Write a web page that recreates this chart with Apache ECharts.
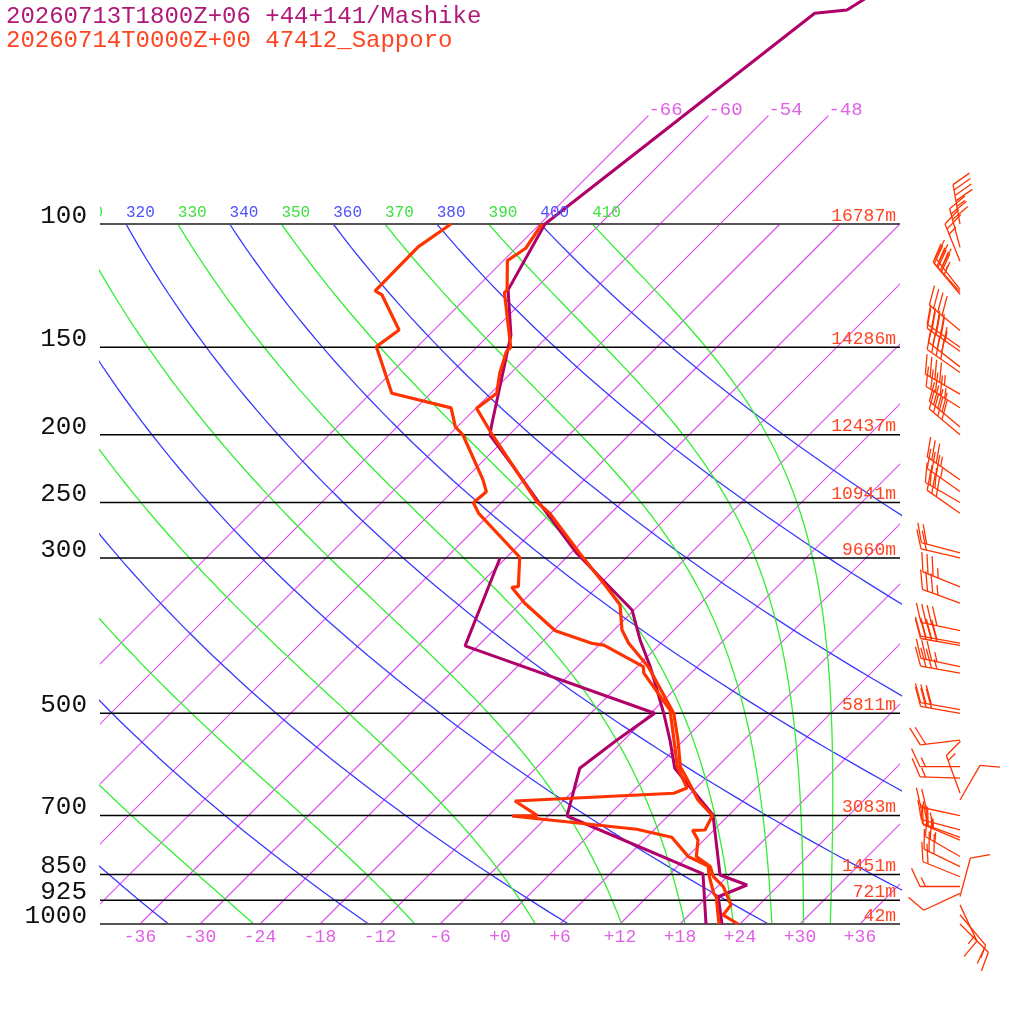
<!DOCTYPE html>
<html><head><meta charset="utf-8">
<script src="https://cdn.jsdelivr.net/npm/echarts@6/dist/echarts.min.js"></script>
<style>html,body{margin:0;padding:0;background:#fff}#c{width:1024px;height:1024px}</style>
</head><body><div id="c"></div>
<script>
// ---------------- data ----------------
const titleMashike = '20260713T1800Z+06 +44+141/Mashike';
const titleSapporo = '20260714T0000Z+00 47412_Sapporo';

const pressureLevels = [100, 150, 200, 250, 300, 500, 700, 850, 925, 1000];
const pressureLabels = ['100', '150', '200', '250', '300', '500', '700', '850', '925', '1000'];
const heightLabels = ['16787m', '14286m', '12437m', '10941m', '9660m', '5811m', '3083m', '1451m', '721m', '42m'];
const bottomTicks = [-36, -30, -24, -18, -12, -6, 0, 6, 12, 18, 24, 30, 36];
const isothermValues = [-66, -60, -54, -48, -42, -36, -30, -24, -18, -12, -6, 0, 6, 12, 18, 24, 30, 36];
const upperIsoLabels = [-66, -60, -54, -48];
const dryThetas = [240, 260, 280, 300, 320, 340, 360, 380, 400];
const moistThetas = [250, 270, 290, 310, 330, 350, 370, 390, 410];

// Sapporo temperature
const sapTP = [100, 108.3, 112.8, 124.2, 125.3, 150, 152.2, 163.4, 174.5, 183.4, 200, 250, 259, 295.4, 329.7, 350.1, 380.2, 397.2, 429, 500, 546, 596, 619.2, 665.1, 700, 734, 735, 758.6, 801.3, 828.1, 855.7, 884.6, 939.4, 970.8, 1000];
const sapT  = [-65.8, -65.0, -65.6, -62.7, -62.7, -56.6, -56.6, -55.1, -53.4, -53.9, -49.7, -38.4, -36.1, -29.1, -23.1, -19.9, -17.2, -15.2, -10.9, -3.7, -0.6, 2.3, 4.1, 7.4, 10.4, 11.1, 9.9, 11.4, 12.9, 15.3, 16.6, 18.6, 21.2, 21.4, 23.8];
// Sapporo dewpoint
const sapDP = [100, 107.8, 124.6, 126.3, 141.7, 149.7, 160, 174.5, 183.1, 194.8, 200.2, 232.1, 241.2, 250.1, 259, 299.3, 329.7, 330.4, 348.1, 381.1, 397.2, 399.6, 429, 438.2, 494.6, 546, 596, 639.3, 650.5, 667.3, 700, 701, 732.3, 751.8, 801.3, 826.2, 855.7, 904, 914.3, 1000];
const sapTd = [-74.9, -75.9, -75.8, -74.7, -69.5, -70.1, -67.4, -63.9, -56.5, -54.2, -52.6, -46.1, -44.6, -44.8, -43.2, -34.7, -31.9, -32.5, -29.6, -23.8, -18.9, -17.5, -11.4, -10.7, -4.4, -1.0, 2.0, 5.1, 4.3, -10.8, -7.1, -9.6, 4.2, 8.5, 12.1, 15.0, 16.2, 18.3, 18.9, 21.9];
// Mashike temperature
const masTP = [44.8, 49.47, 50, 100, 124.2, 144.1, 194.8, 200.2, 222.2, 249.3, 295.4, 355.9, 392.8, 429, 500, 546, 599.1, 698.7, 851.1, 879.6, 914.3, 1000];
const masT  = [-54.9, -56.7, -59.6, -65.5, -62.6, -57.8, -50.6, -49.9, -44.4, -38.4, -29.4, -18.2, -14.4, -10.7, -4.7, -1.4, 1.9, 10.4, 17.1, 20.8, 19.1, 22.2];
// Mashike dewpoint
const masDP = [300, 400.6, 500, 546, 599.1, 701, 848.3, 1000];
const masTd = [-36.6, -31.3, -5.6, -6.7, -7.6, -4.1, 15.3, 20.6];

// Sapporo winds (pressure hPa, direction deg, speed kt)
const windP   = [100, 108, 113, 124, 125, 126, 142, 150, 152, 160, 163, 175, 183, 195, 200, 232, 241, 250, 259, 295, 300, 330, 348, 381, 397, 400, 429, 438, 494, 500, 546, 596, 619, 650, 665, 700, 734, 752, 759, 801, 828, 856, 884, 904, 914, 939, 970, 1000];
const windDir = [350, 345, 338, 322, 318, 320, 310, 305, 305, 308, 305, 300, 302, 310, 310, 305, 305, 300, 305, 285, 283, 292, 290, 282, 280, 280, 282, 280, 280, 280, 263, 270, 272, 340, 30, 282, 285, 290, 293, 300, 296, 292, 270, 245, 15, 155, 140, 135];
const windSpd = [45, 30, 25, 35, 35, 30, 40, 45, 45, 40, 40, 45, 45, 40, 40, 35, 35, 30, 30, 20, 20, 35, 35, 40, 40, 40, 35, 35, 30, 30, 20, 15, 15, 15, 10, 20, 25, 25, 25, 25, 30, 20, 15, 10, 10, 15, 10, 15];

// ---------------- diagram geometry ----------------
const P_TOP = 1000 / Math.pow(10, 924 / 700);
const SKEW = 70;            // skew of isotherms, in deg C per decade of pressure
const KAPPA = 0.2857;
const BARB_X = 46;          // skewed-axis position of barb anchors
const MONO = '"Liberation Mono", "DejaVu Sans Mono", monospace';
const ISO_COLOR = '#e24cf2';
const DRY_COLOR = '#3a3aff';
const MOIST_COLOR = '#33ee33';

function sx(T, p) { return T + SKEW * Math.log10(1000 / p); }

function moistLapse(p, T) {
  const Rd = 287.04, cp = 1005.7, Lv = 2.501e6, eps = 0.622;
  const Tc = T - 273.15;
  const es = 6.112 * Math.exp(17.67 * Tc / (Tc + 243.5));
  const rs = eps * es / (p - es);
  return (Rd * T + Lv * rs) / (p * (cp + (Lv * Lv * rs * eps) / (Rd * T * T)));
}

function dryAdiabat(theta) {
  const pts = [];
  for (let i = 0; i <= 60; i++) {
    const p = 100 * Math.pow(10, i / 60);
    const T = theta * Math.pow(p / 1000, KAPPA) - 273.15;
    pts.push([sx(T, p), p]);
  }
  return pts;
}

function pseudoAdiabat(theta) {
  const pts = [];
  let p = 100, T = theta * Math.pow(0.1, KAPPA);
  pts.push([sx(T - 273.15, p), p]);
  const dp = 0.5;
  let step = 0;
  while (p < 1000 - 1e-9) {
    const k1 = moistLapse(p, T);
    const k2 = moistLapse(p + dp / 2, T + k1 * dp / 2);
    T += k2 * dp; p += dp; step++;
    if (step % 10 === 0) pts.push([sx(T - 273.15, p), p]);
  }
  return pts;
}

function profile(P, T) { return P.map((p, i) => [sx(T[i], p), p]); }

// ---------------- series ----------------
const series = [];
function addLine(data, color, width, z) {
  series.push({
    type: 'line', data, symbol: 'none', showSymbol: false, silent: true, animation: false,
    clip: true, z, color, itemStyle: { color }, lineStyle: { color, width }
  });
}

function gridClip(api) {
  const a = api.coord([-40, P_TOP]);
  const b = api.coord([40, 1000]);
  return { type: 'rect', shape: { x: a[0], y: a[1], width: b[0] - a[0], height: b[1] - a[1] } };
}

// isotherms (custom polylines through the axes)
series.push({
  type: 'custom', coordinateSystem: 'cartesian2d', silent: true, animation: false, z: 1,
  data: isothermValues.map(T => [T, upperIsoLabels.includes(T) ? 70 : 100]),
  renderItem(params, api) {
    const T = api.value(0), top = api.value(1);
    const a = api.coord([sx(T, 1000), 1000]);
    const b = api.coord([sx(T, top), top]);
    return { type: 'group', clipPath: gridClip(api), children: [
      { type: 'line', shape: { x1: a[0], y1: a[1], x2: b[0], y2: b[1] }, style: { stroke: ISO_COLOR, lineWidth: 1.2 } }
    ] };
  }
});

dryThetas.forEach(th => addLine(dryAdiabat(th), DRY_COLOR, 1.3, 1));
moistThetas.forEach(th => addLine(pseudoAdiabat(th), MOIST_COLOR, 1.3, 1));
pressureLevels.forEach(p => {
  const edge = (p === 100 || p === 1000);
  addLine([[-40, p], [40, p]], edge ? '#555555' : '#000000', edge ? 2 : 1.5, 2);
});

// profiles
addLine(profile(masDP, masTd), '#b0006a', 3, 5);
addLine(profile(masTP, masT), '#b0006a', 3, 5);
addLine(profile(sapDP, sapTd), '#ff3300', 3.2, 6);
addLine(profile(sapTP, sapT), '#ff3300', 3.2, 6);

// text helper
function textSeries(items, z) {
  return {
    type: 'custom', coordinateSystem: 'cartesian2d', silent: true, animation: false, z,
    data: items.map(it => [it.x, it.p]),
    renderItem(params, api) {
      const it = items[params.dataIndex];
      const c = api.coord([api.value(0), api.value(1)]);
      const el = {
        type: 'text', x: c[0] + (it.dx || 0), y: c[1] + (it.dy || 0),
        style: {
          text: it.text, fill: it.color, font: it.font,
          textAlign: it.align, textVerticalAlign: it.valign,
          align: it.align, verticalAlign: it.valign
        }
      };
      if (it.clip) return { type: 'group', children: [el], clipPath: gridClip(api) };
      return el;
    }
  };
}

const texts = [];
pressureLevels.forEach((p, i) => {
  texts.push({ x: -41.3, p, text: pressureLabels[i], color: '#111', font: '26px ' + MONO, align: 'right', valign: 'middle', dy: -8 });
  texts.push({ x: 39.6, p, text: heightLabels[i], color: '#ff4422', font: '18px ' + MONO, align: 'right', valign: 'middle', dy: -8 });
});
bottomTicks.forEach(t => {
  texts.push({ x: t, p: 1000, text: (t >= 0 ? '+' : '') + t, color: '#e060e6', font: '18px ' + MONO, align: 'center', valign: 'middle', dy: 13 });
});
upperIsoLabels.forEach(t => {
  texts.push({ x: sx(t, 70), p: 70, text: String(t), color: '#e060e6', font: '19px ' + MONO, align: 'left', valign: 'bottom', dy: 4 });
});
dryThetas.forEach(th => {
  const T = th * Math.pow(0.1, KAPPA) - 273.15;
  texts.push({ x: sx(T, 100), p: 100, text: String(th), color: '#5050ff', font: '16px ' + MONO, align: 'left', valign: 'middle', dy: -11, clip: true });
});
moistThetas.forEach(th => {
  const T = th * Math.pow(0.1, KAPPA) - 273.15;
  texts.push({ x: sx(T, 100), p: 100, text: String(th), color: '#40e040', font: '16px ' + MONO, align: 'left', valign: 'middle', dy: -11, clip: true });
});
series.push(textSeries(texts, 8));

// wind barbs
series.push({
  type: 'custom', coordinateSystem: 'cartesian2d', silent: true, animation: false, z: 7,
  data: windP.map((p, i) => [BARB_X, p, windDir[i], windSpd[i]]),
  renderItem(params, api) {
    const c = api.coord([api.value(0), api.value(1)]);
    const dir = api.value(2), spd = api.value(3);
    const color = '#ff3300';
    const r = dir * Math.PI / 180;
    const ux = Math.sin(r), uy = -Math.cos(r);
    const L = 40, F = 20, gap = 5.5;
    const tx = c[0] + ux * L, ty = c[1] + uy * L;
    const fr = (dir + 65) * Math.PI / 180, fx = Math.sin(fr), fy = -Math.cos(fr);
    const st = { stroke: color, lineWidth: 1.3 };
    const ch = [{ type: 'line', shape: { x1: c[0], y1: c[1], x2: tx, y2: ty }, style: st }];
    let s = Math.round(spd / 5) * 5, pos = 0;
    while (s >= 50) {
      const bx = tx - ux * pos, by = ty - uy * pos;
      ch.push({ type: 'polygon', shape: { points: [[bx, by], [bx + fx * F, by + fy * F], [bx - ux * 8, by - uy * 8]] }, style: { fill: color } });
      pos += 9; s -= 50;
    }
    while (s >= 10) {
      const bx = tx - ux * pos, by = ty - uy * pos;
      ch.push({ type: 'line', shape: { x1: bx, y1: by, x2: bx + fx * F, y2: by + fy * F }, style: st });
      pos += gap; s -= 10;
    }
    if (s >= 5) {
      if (pos === 0) pos = gap;
      const bx = tx - ux * pos, by = ty - uy * pos;
      ch.push({ type: 'line', shape: { x1: bx, y1: by, x2: bx + fx * F / 2, y2: by + fy * F / 2 }, style: st });
    }
    return { type: 'group', children: ch };
  }
});

const chart = echarts.init(document.getElementById('c'), null, { renderer: 'canvas' });
chart.setOption({
  backgroundColor: '#ffffff',
  animation: false,
  title: [
    { text: titleMashike, left: 6, top: 5, padding: 0, textStyle: { fontFamily: MONO, fontSize: 24, fontWeight: 'normal', color: '#b0187a' } },
    { text: titleSapporo, left: 6, top: 29, padding: 0, textStyle: { fontFamily: MONO, fontSize: 24, fontWeight: 'normal', color: '#ff4422' } }
  ],
  grid: { left: 100, right: 124, top: 0, bottom: 100, containLabel: false },
  xAxis: { type: 'value', min: -40, max: 40, show: false },
  yAxis: { type: 'log', logBase: 10, min: P_TOP, max: 1000, inverse: true, show: false },
  series
});
</script>
</body></html>
